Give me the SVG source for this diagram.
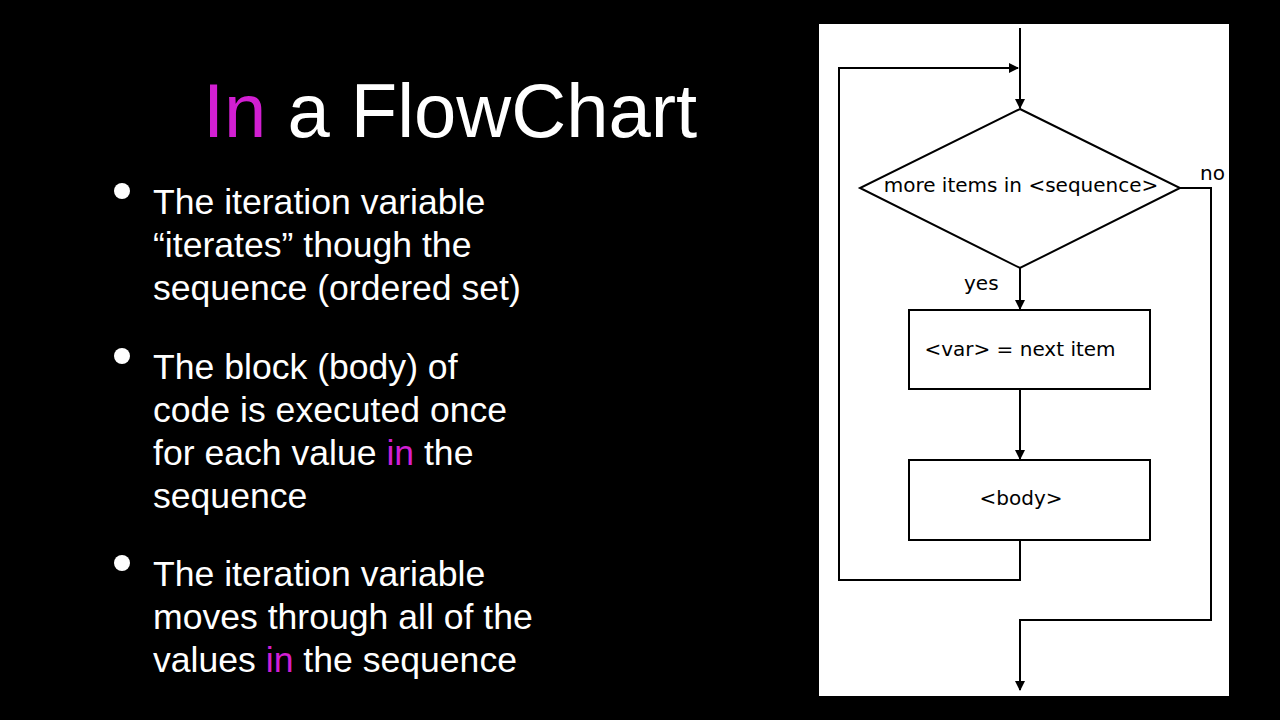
<svg xmlns="http://www.w3.org/2000/svg" width="1280" height="720" viewBox="0 0 1280 720">
<style>
.t{font-family:"Liberation Sans",Arial,sans-serif;fill:#fff;font-size:35.6px}
.m{fill:#d21fd2}
.f{font-family:"DejaVu Sans",sans-serif;font-size:20px;fill:#000}
.s{fill:none;stroke:#000;stroke-width:2}
.n{fill:#fff;stroke:#000;stroke-width:2}
</style>
<defs><marker id="a" markerWidth="10" markerHeight="10" refX="9" refY="5" orient="auto" markerUnits="userSpaceOnUse"><path d="M0,0 L10,5 L0,10 Z" fill="#000"/></marker></defs>
<rect width="1280" height="720" fill="#000"/>
<text x="450" y="137" text-anchor="middle" class="t" style="font-size:76px"><tspan class="m">In</tspan> a FlowChart</text>
<g class="t">
<circle cx="122" cy="191" r="8" fill="#fff"/><circle cx="122" cy="356" r="8" fill="#fff"/><circle cx="122" cy="563" r="8" fill="#fff"/>
<text x="153" y="214">The iteration variable</text>
<text x="153" y="257">“iterates” though the</text>
<text x="153" y="300">sequence (ordered set)</text>
<text x="153" y="379">The block (body) of</text>
<text x="153" y="422">code is executed once</text>
<text x="153" y="465">for each value <tspan class="m">in</tspan> the</text>
<text x="153" y="508">sequence</text>
<text x="153" y="586">The iteration variable</text>
<text x="153" y="629">moves through all of the</text>
<text x="153" y="672">values <tspan class="m">in</tspan> the sequence</text>
</g>
<rect x="819" y="24" width="410" height="672" fill="#fff"/>
<g id="connectors" class="s">
<path d="M1020,28 V108" marker-end="url(#a)"/>
<path d="M1020,268 V309" marker-end="url(#a)"/>
<path d="M1020,389 V459" marker-end="url(#a)"/>
<path d="M1020,540 V580 H839 V68 H1018" marker-end="url(#a)"/>
<path d="M1180,188 H1211 V620 H1020 V690" marker-end="url(#a)"/>
</g>
<g id="decision"><path class="n" d="M1020,109 L1180,188 L1020,268 L860,188 Z"/><text class="f" x="1021" y="192" text-anchor="middle">more items in &lt;sequence&gt;</text></g>
<g id="assign"><rect class="n" x="909" y="310" width="241" height="79"/><text class="f" x="1020" y="356" text-anchor="middle">&lt;var&gt; = next item</text></g>
<g id="body"><rect class="n" x="909" y="460" width="241" height="80"/><text class="f" x="1021" y="505" text-anchor="middle">&lt;body&gt;</text></g>
<text class="f" x="964" y="290">yes</text>
<text class="f" x="1200" y="180">no</text>
</svg>
